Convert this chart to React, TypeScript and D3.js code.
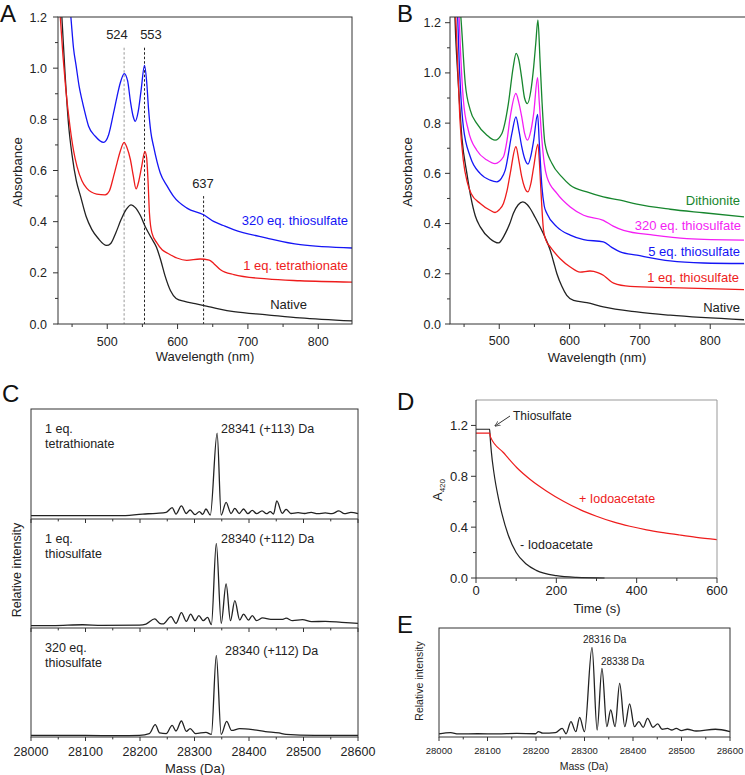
import React from 'react';
import * as d3 from 'd3';

type Pt = [number, number];

// ---- Panel A: UV-vis spectra (nm, absorbance)
const aNative: Pt[] = [[435.5,1.2],[440,0.98],[445,0.78],[450,0.66],[456,0.56],[462,0.5],[470,0.42],[478,0.37],[487,0.335],[499,0.307],[505,0.315],[512,0.355],[520,0.41],[527,0.448],[534,0.466],[540,0.455],[547,0.425],[555,0.375],[563,0.335],[570,0.3],[576,0.25],[582,0.19],[590,0.13],[598,0.1],[610,0.088],[625,0.08],[641,0.07],[660,0.058],[680,0.048],[727,0.036],[774,0.024],[848,0.012]];
const aTetra: Pt[] = [[432,1.25],[437,1.05],[441,0.92],[447,0.773],[452,0.68],[457,0.616],[464,0.56],[471,0.53],[485,0.508],[497,0.505],[503,0.52],[509,0.577],[514,0.63],[518.5,0.675],[524,0.71],[528,0.69],[533,0.642],[537,0.58],[541,0.528],[545,0.56],[549,0.616],[553.5,0.675],[556,0.65],[558,0.56],[560,0.434],[563.5,0.356],[570.6,0.317],[578,0.29],[585,0.278],[599,0.258],[613,0.249],[632,0.254],[645,0.25],[652,0.235],[661,0.212],[680,0.193],[727,0.176],[774,0.169],[848,0.164]];
const aThio320: Pt[] = [[445,1.3],[448.3,1.2],[452,1.08],[455.9,1.007],[460,0.93],[464,0.877],[468,0.83],[473.5,0.773],[483,0.734],[494.8,0.71],[502,0.74],[509,0.825],[514,0.89],[518.5,0.942],[524.2,0.979],[529,0.95],[533,0.87],[537,0.81],[539.8,0.792],[544,0.83],[548,0.91],[553,1.011],[556,0.95],[558.8,0.838],[562,0.75],[565.9,0.694],[575.4,0.59],[585,0.54],[594.3,0.499],[613.3,0.453],[637,0.427],[651.2,0.401],[665,0.385],[679.6,0.369],[727,0.336],[774.4,0.31],[848,0.297]];
const aMarkNm = [524, 553, 637];
const aMarkTop = [1.08, 1.08, 0.5];
const aMarkColor = ['#999', '#222', '#222'];

// ---- Panel B
const bNative: Pt[] = [[436,1.3],[438,1.15],[442,0.95],[447,0.74],[454,0.6],[460,0.5],[466,0.43],[473,0.387],[487,0.34],[499,0.323],[508.5,0.36],[515,0.4],[520,0.44],[527,0.475],[533.6,0.486],[540,0.475],[544,0.46],[551,0.425],[558,0.387],[566,0.34],[572.5,0.294],[577,0.25],[582,0.2],[589,0.15],[596,0.114],[605.7,0.094],[624.6,0.085],[648,0.068],[695.7,0.048],[743,0.035],[848,0.017]];
const bThio1: Pt[] = [[437,1.3],[440,1.1],[444,0.82],[449,0.65],[455,0.56],[460,0.52],[473,0.48],[487,0.453],[494,0.444],[500,0.455],[506,0.48],[511,0.53],[515.6,0.599],[523.7,0.706],[528,0.65],[532,0.586],[536,0.545],[540.8,0.526],[545,0.56],[549,0.626],[555,0.716],[557,0.65],[559,0.546],[563,0.373],[567,0.33],[572.5,0.307],[586.7,0.26],[601,0.227],[615,0.207],[629,0.211],[640,0.205],[648,0.194],[655,0.178],[662.6,0.163],[686,0.15],[743,0.145],[848,0.137]];
const bThio5: Pt[] = [[440,1.3],[443,1.05],[449,0.785],[458.8,0.666],[473,0.599],[487,0.573],[496.7,0.566],[503,0.58],[508.5,0.613],[518,0.759],[523.7,0.825],[528,0.77],[532,0.706],[536,0.66],[540.8,0.637],[545,0.67],[549,0.732],[554.5,0.835],[557,0.72],[560.7,0.546],[564,0.47],[567.8,0.44],[582,0.387],[601,0.354],[620,0.336],[648,0.327],[660,0.305],[672,0.287],[695.7,0.274],[743,0.251],[790.5,0.243],[848,0.241]];
const bThio320: Pt[] = [[442,1.3],[444,1.15],[449,0.892],[456,0.772],[468,0.692],[482.5,0.653],[494,0.639],[506,0.666],[511,0.73],[515.6,0.825],[523.7,0.918],[528,0.88],[532,0.825],[536,0.76],[540,0.732],[545,0.77],[549,0.839],[554.5,0.981],[557,0.88],[560.7,0.732],[564,0.64],[567.8,0.586],[582,0.52],[601,0.466],[620,0.433],[648,0.413],[662,0.39],[676.8,0.373],[719.4,0.354],[766.8,0.34],[848,0.334]];
const bDithionite: Pt[] = [[443,1.3],[445.5,1.22],[451.7,0.958],[458.8,0.852],[468,0.799],[482.5,0.752],[494,0.732],[503.8,0.759],[508,0.8],[513,0.878],[520,1.025],[524,1.078],[528,1.05],[532,0.978],[536,0.9],[540,0.878],[545,0.93],[549,1.025],[552,1.12],[555,1.211],[558,1.05],[560.7,0.892],[565,0.719],[575,0.639],[589,0.586],[601,0.553],[624.6,0.526],[648,0.506],[672,0.493],[695.7,0.477],[743,0.457],[790.5,0.443],[848,0.427]];

// ---- Panel C: deconvoluted mass spectra (Da, relative intensity)
const cTetra: Pt[] = [[28000,0.03],[28162,0.03],[28205,0.045],[28230,0.052],[28248,0.06],[28259,0.103],[28266,0.045],[28276,0.119],[28285,0.05],[28292,0.082],[28301,0.04],[28309,0.067],[28315,0.042],[28321,0.091],[28329,0.036],[28341.5,0.781],[28349,0.036],[28358,0.152],[28367,0.05],[28374,0.097],[28382,0.05],[28390,0.091],[28398,0.048],[28406,0.079],[28414,0.048],[28424,0.073],[28432,0.048],[28439,0.067],[28445,0.045],[28451,0.164],[28461,0.052],[28468,0.088],[28477,0.05],[28490,0.058],[28502,0.05],[28514,0.06],[28526,0.048],[28540,0.055],[28552,0.048],[28565,0.073],[28575,0.048],[28587,0.06],[28600,0.048]];
const cThio1: Pt[] = [[28000,0.021],[28040,0.021],[28095,0.03],[28130,0.024],[28199,0.027],[28211,0.036],[28227,0.083],[28236,0.043],[28242,0.037],[28257,0.104],[28266,0.043],[28276,0.141],[28285,0.061],[28293,0.128],[28301,0.067],[28308,0.113],[28316,0.067],[28324,0.098],[28331,0.031],[28340,0.777],[28349,0.043],[28358,0.404],[28366,0.067],[28374,0.251],[28383,0.073],[28390,0.128],[28399,0.073],[28406,0.113],[28414,0.067],[28425,0.092],[28440,0.08],[28462,0.08],[28468,0.09],[28480,0.067],[28498,0.076],[28515,0.058],[28540,0.061],[28570,0.052],[28600,0.043]];
const cThio320: Pt[] = [[28000,0.015],[28100,0.015],[28160,0.012],[28199,0.015],[28217,0.031],[28228,0.113],[28236,0.037],[28248,0.031],[28259,0.107],[28266,0.055],[28276,0.147],[28285,0.052],[28292,0.076],[28302,0.031],[28321,0.043],[28331,0.024],[28340,0.749],[28349,0.024],[28359,0.144],[28368,0.06],[28383,0.076],[28407,0.067],[28430,0.05],[28455,0.037],[28468,0.024],[28520,0.015],[28600,0.015]];
const cTitles = [['1 eq.', 'tetrathionate'], ['1 eq.', 'thiosulfate'], ['320 eq.', 'thiosulfate']];
const cPeakLabels = ['28341 (+113) Da', '28340 (+112) Da', '28340 (+112) Da'];

// ---- Panel D: A420 kinetics (s, absorbance)
const dMinusIodo: Pt[] = [[0,1.17],[34,1.17],[35,1.12],[38,1.0],[45,0.82],[55,0.64],[65,0.5],[80,0.34],[100,0.2],[125,0.11],[150,0.06],[200,0.018],[250,0.005],[320,0]];
const dPlusIodo: Pt[] = [[0,1.14],[34,1.14],[36,1.11],[68.7,0.985],[101.8,0.867],[135,0.775],[176,0.683],[217.7,0.604],[259,0.538],[300,0.486],[341.8,0.441],[383,0.407],[424.6,0.379],[466,0.357],[507,0.338],[548.7,0.32],[600,0.302]];

// ---- Panel E
const eSpectrum: Pt[] = [[28000,0.028],[28024,0.04],[28040,0.028],[28080,0.03],[28120,0.028],[28160,0.033],[28199,0.03],[28205,0.05],[28214,0.035],[28240,0.04],[28254,0.079],[28262,0.03],[28272,0.141],[28282,0.049],[28290,0.18],[28300,0.049],[28315.5,0.822],[28326,0.064],[28336,0.63],[28346,0.095],[28354,0.248],[28363,0.095],[28372.5,0.492],[28383,0.095],[28393,0.303],[28403,0.095],[28412,0.141],[28421,0.089],[28430,0.171],[28441,0.089],[28451,0.12],[28460,0.071],[28471,0.079],[28480,0.064],[28489,0.079],[28500,0.058],[28512,0.071],[28530,0.055],[28570,0.071],[28600,0.049]];

const nmMajor = [500, 600, 700, 800];
const nmMinor = [450, 550, 650, 750];
const absMajor = [0, 0.2, 0.4, 0.6, 0.8, 1.0, 1.2];
const absMinor = [0.1, 0.3, 0.5, 0.7, 0.9, 1.1];
const massMajor = [28000, 28100, 28200, 28300, 28400, 28500, 28600];
const massMinor = [28050, 28150, 28250, 28350, 28450, 28550];

const BLUE = '#1515f5';
const RED = '#ee1c1c';
const GREEN = '#17862e';
const MAGENTA = '#f41ef4';
const INK = '#222';
const FONT = '"Liberation Sans", Arial, Helvetica, sans-serif';

type Scale = d3.ScaleLinear<number, number>;

const lineOf = (x: Scale, y: Scale) =>
  d3.line<Pt>().x(d => x(d[0])).y(d => y(d[1])).curve(d3.curveMonotoneX);

const BottomAxis = ({ scale, y, major, minor, fmt, size, dy, len = 5, labels = true }: any) => (
  <g>
    {minor.map((v: number) => <line key={'m' + v} x1={scale(v)} x2={scale(v)} y1={y} y2={y + len * 0.6} stroke="#333" />)}
    {major.map((v: number) => <line key={'M' + v} x1={scale(v)} x2={scale(v)} y1={y} y2={y + len} stroke="#333" />)}
    {labels && major.map((v: number) => (
      <text key={'t' + v} x={scale(v)} y={y + dy} textAnchor="middle" fontSize={size} fill={INK}>{fmt(v)}</text>
    ))}
  </g>
);

const LeftAxis = ({ scale, x, major, minor, fmt, size, gap, len = 5 }: any) => (
  <g>
    {minor.map((v: number) => <line key={'m' + v} x1={x} x2={x - len * 0.6} y1={scale(v)} y2={scale(v)} stroke="#333" />)}
    {major.map((v: number) => <line key={'M' + v} x1={x} x2={x - len} y1={scale(v)} y2={scale(v)} stroke="#333" />)}
    {major.map((v: number) => (
      <text key={'t' + v} x={x - gap} y={scale(v) + size * 0.36} textAnchor="end" fontSize={size} fill={INK}>{fmt(v)}</text>
    ))}
  </g>
);

const Box = ({ x0, x1, y0, y1, stroke = '#333' }: any) => (
  <rect x={x0} y={y0} width={x1 - x0} height={y1 - y0} fill="none" stroke={stroke} strokeWidth={1} />
);

const f1 = d3.format('.1f');
const f0 = d3.format('d');

export default function App() {
  // panel A
  const ax = d3.scaleLinear().domain([430, 848]).range([58, 352]);
  const ay = d3.scaleLinear().domain([0, 1.2]).range([324, 17]);
  const aLine = lineOf(ax, ay);
  // panel B
  const bx = d3.scaleLinear().domain([430, 848]).range([450, 744]);
  const by = d3.scaleLinear().domain([0, 1.2227]).range([324, 17]);
  const bLine = lineOf(bx, by);
  // panel C
  const cx = d3.scaleLinear().domain([28000, 28600]).range([31, 358]);
  const cRows = [[409, 519], [519, 628], [628, 737]];
  const cData = [cTetra, cThio1, cThio320];
  // panel D
  const dx = d3.scaleLinear().domain([0, 600]).range([476, 717]);
  const dy = d3.scaleLinear().domain([0, 1.4]).range([578, 400]);
  const dLine = lineOf(dx, dy);
  // panel E
  const ex = d3.scaleLinear().domain([28000, 28600]).range([439, 730]);
  const ey = d3.scaleLinear().domain([0, 1]).range([737, 628]);
  const eLine = lineOf(ex, ey);

  return (
    <svg width={745} height={775} style={{ position: 'absolute', left: 0, top: 0, background: '#fff' }} fontFamily={FONT}>
      <defs>
        <clipPath id="clipA"><rect x={58} y={17} width={294} height={307} /></clipPath>
        <clipPath id="clipB"><rect x={450} y={17} width={295} height={307} /></clipPath>
        <marker id="arr" viewBox="0 0 10 10" refX={9} refY={5} markerWidth={6} markerHeight={6} orient="auto">
          <path d="M0,1 L10,5 L0,9" fill="none" stroke="#333" strokeWidth={1.2} />
        </marker>
      </defs>

      {/* ===== A ===== */}
      <text x={0} y={22} fontSize={24} fill="#111">A</text>
      {aMarkNm.map((v, i) => (
        <line key={v} x1={ax(v)} x2={ax(v)} y1={ay(aMarkTop[i])} y2={324} stroke={aMarkColor[i]} strokeWidth={1} strokeDasharray="2.5,2" />
      ))}
      <g clipPath="url(#clipA)" fill="none" strokeWidth={1.3}>
        <path d={aLine(aNative) || ''} stroke={INK} />
        <path d={aLine(aTetra) || ''} stroke={RED} />
        <path d={aLine(aThio320) || ''} stroke={BLUE} />
      </g>
      <Box x0={58} x1={352} y0={17} y1={324} />
      <BottomAxis scale={ax} y={324} major={nmMajor} minor={nmMinor} fmt={f0} size={12.5} dy={22} />
      <LeftAxis scale={ay} x={58} major={absMajor} minor={absMinor} fmt={f1} size={12.5} gap={11} />
      <text x={117} y={38.5} textAnchor="middle" fontSize={13} fill={INK}>524</text>
      <text x={151} y={38.5} textAnchor="middle" fontSize={13} fill={INK}>553</text>
      <text x={203} y={187.5} textAnchor="middle" fontSize={13} fill={INK}>637</text>
      <text x={348} y={224.5} textAnchor="end" fontSize={13} fill={BLUE}>320 eq. thiosulfate</text>
      <text x={348} y={269.5} textAnchor="end" fontSize={13} fill={RED}>1 eq. tetrathionate</text>
      <text x={307} y={308.5} textAnchor="end" fontSize={13} fill={INK}>Native</text>
      <text x={205} y={361} textAnchor="middle" fontSize={13} fill={INK}>Wavelength (nm)</text>
      <text transform="translate(22,172) rotate(-90)" textAnchor="middle" fontSize={13} fill={INK}>Absorbance</text>

      {/* ===== B ===== */}
      <text x={397} y={22} fontSize={24} fill="#111">B</text>
      <g clipPath="url(#clipB)" fill="none" strokeWidth={1.3}>
        <path d={bLine(bNative) || ''} stroke={INK} />
        <path d={bLine(bThio1) || ''} stroke={RED} />
        <path d={bLine(bThio5) || ''} stroke={BLUE} />
        <path d={bLine(bThio320) || ''} stroke={MAGENTA} />
        <path d={bLine(bDithionite) || ''} stroke={GREEN} />
      </g>
      <Box x0={450} x1={746} y0={17} y1={324} />
      <BottomAxis scale={bx} y={324} major={nmMajor} minor={nmMinor} fmt={f0} size={12.5} dy={21} />
      <LeftAxis scale={by} x={450} major={absMajor} minor={absMinor} fmt={f1} size={12.5} gap={9} />
      <text x={740} y={204.5} textAnchor="end" fontSize={13} fill={GREEN}>Dithionite</text>
      <text x={741} y={229.5} textAnchor="end" fontSize={13} fill={MAGENTA}>320 eq. thiosulfate</text>
      <text x={740} y={255.5} textAnchor="end" fontSize={13} fill={BLUE}>5 eq. thiosulfate</text>
      <text x={739} y={281.5} textAnchor="end" fontSize={13} fill={RED}>1 eq. thiosulfate</text>
      <text x={740} y={311.5} textAnchor="end" fontSize={13} fill={INK}>Native</text>
      <text x={597} y={362} textAnchor="middle" fontSize={13} fill={INK}>Wavelength (nm)</text>
      <text transform="translate(412,172) rotate(-90)" textAnchor="middle" fontSize={13} fill={INK}>Absorbance</text>

      {/* ===== C ===== */}
      <text x={2} y={402} fontSize={24} fill="#111">C</text>
      {cRows.map(([t, b], i) => {
        const cy = d3.scaleLinear().domain([0, 1]).range([b, t]);
        const cl = lineOf(cx, cy);
        return (
          <g key={i}>
            <path d={cl(cData[i]) || ''} fill="none" stroke={INK} strokeWidth={1.3} />
            <BottomAxis scale={cx} y={b} major={massMajor} minor={massMinor} fmt={f0} size={12.5} dy={18.5} len={4} labels={i === 2} />
            <text x={45} y={t + 23.5} fontSize={12.5} fill={INK}>{cTitles[i][0]}</text>
            <text x={45} y={t + 39} fontSize={12.5} fill={INK}>{cTitles[i][1]}</text>
            <text x={i === 2 ? 225 : 221} y={t + (i === 2 ? 27 : 23.5)} fontSize={12.5} fill={INK}>{cPeakLabels[i]}</text>
          </g>
        );
      })}
      <Box x0={31} x1={358} y0={409} y1={737} />
      <line x1={31} x2={358} y1={519} y2={519} stroke="#333" />
      <line x1={31} x2={358} y1={628} y2={628} stroke="#333" />
      <text x={195} y={772.5} textAnchor="middle" fontSize={13} fill={INK}>Mass (Da)</text>
      <text transform="translate(21,570) rotate(-90)" textAnchor="middle" fontSize={12.5} fill={INK}>Relative intensity</text>

      {/* ===== D ===== */}
      <text x={397} y={410} fontSize={24} fill="#111">D</text>
      <g fill="none" strokeWidth={1.2}>
        <path d={dLine(dMinusIodo) || ''} stroke={INK} />
        <path d={dLine(dPlusIodo) || ''} stroke={RED} />
      </g>
      <line x1={476} x2={717} y1={400} y2={400} stroke="#999" />
      <line x1={717} x2={717} y1={400} y2={578} stroke="#999" />
      <line x1={476} x2={476} y1={400} y2={578} stroke="#333" />
      <line x1={476} x2={717} y1={578} y2={578} stroke="#333" />
      <BottomAxis scale={dx} y={578} major={[0, 200, 400, 600]} minor={[100, 300, 500]} fmt={f0} size={13} dy={16.5} />
      <LeftAxis scale={dy} x={476} major={[0, 0.4, 0.8, 1.2]} minor={[0.2, 0.6, 1.0]} fmt={f1} size={13} gap={8} />
      <line x1={510} y1={416} x2={495} y2={426} stroke="#333" strokeWidth={1} markerEnd="url(#arr)" />
      <text x={513} y={419.5} fontSize={12} fill={INK}>Thiosulfate</text>
      <text x={579} y={502.5} fontSize={12.5} fill={RED}>+ Iodoacetate</text>
      <text x={520} y={548.5} fontSize={12.5} fill={INK}>- Iodoacetate</text>
      <text x={597} y={612.5} textAnchor="middle" fontSize={13} fill={INK}>Time (s)</text>
      <text transform="translate(442,490) rotate(-90)" textAnchor="middle" fontSize={13} fill={INK}>
        A<tspan fontSize={8} dy={3}>420</tspan>
      </text>

      {/* ===== E ===== */}
      <text x={397} y={633} fontSize={24} fill="#111">E</text>
      <path d={eLine(eSpectrum) || ''} fill="none" stroke={INK} strokeWidth={1.3} />
      <Box x0={439} x1={730} y0={628} y1={737} />
      <BottomAxis scale={ex} y={737} major={massMajor} minor={massMinor} fmt={f0} size={9.5} dy={16.5} len={4} />
      <text x={583} y={643} fontSize={10} fill={INK}>28316 Da</text>
      <text x={601} y={664.5} fontSize={10} fill={INK}>28338 Da</text>
      <text x={584} y={770} textAnchor="middle" fontSize={10.5} fill={INK}>Mass (Da)</text>
      <text transform="translate(423,681) rotate(-90)" textAnchor="middle" fontSize={10.5} fill={INK}>Relative intensity</text>
    </svg>
  );
}
